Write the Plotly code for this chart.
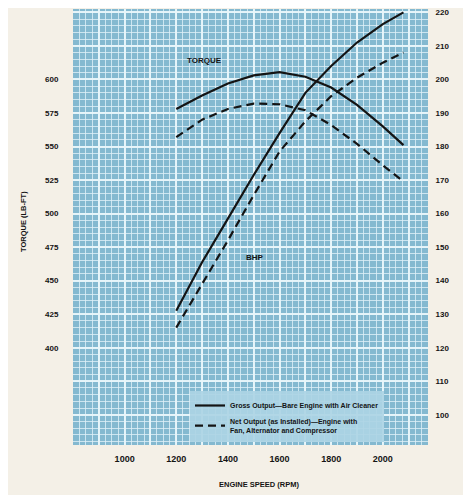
import plotly.graph_objects as go

rpm = [1200, 1300, 1400, 1500, 1600, 1700, 1800, 1900, 2000, 2080]
torque_gross = [578, 588, 597, 603, 605.5, 602, 594, 581, 565, 551]
torque_net = [557, 570, 578, 582, 581.5, 577, 566, 552, 536, 524]
bhp_gross = [131, 145.5, 158.5, 171.5, 184, 196, 204, 211, 216.5, 220]
bhp_net = [126, 139, 152, 165.5, 178.5, 187.5, 195, 200.5, 205, 208]

x_tick_labels = [1000, 1200, 1400, 1600, 1800, 2000]
torque_ticks = [400, 425, 450, 475, 500, 525, 550, 575, 600]
bhp_ticks = [100, 110, 120, 130, 140, 150, 160, 170, 180, 190, 200, 210, 220]

gross_name = "<b>Gross Output—Bare Engine with Air Cleaner</b>"
net_name = "<b>Net Output (as Installed)—Engine with<br>Fan, Alternator and Compressor</b>"

# page body adds an 8px offset; figure coordinates = screen - 8
OFF = 8
W, H = 471, 495
L, T = 73 - OFF, 9 - OFF
R, B = W - (428 - OFF), H - (445 - OFF)
hp_range = [91, 221]
tq_range = [2.5 * v + 100 for v in hp_range]
x_range = [800, 2175]
PW, PH = W - L - R, H - T - B
PB = H - B  # plot bottom in figure coords


def px(sx):
    return (sx - OFF - L) / PW


def py(sy):
    return (PB - (sy - OFF)) / PH


ink = "#141414"
fig = go.Figure()
fig.add_trace(go.Scatter(x=rpm, y=torque_gross, mode="lines", yaxis="y",
                         line=dict(color=ink, width=2.2), name=gross_name, showlegend=True))
fig.add_trace(go.Scatter(x=rpm, y=torque_net, mode="lines", yaxis="y",
                         line=dict(color=ink, width=2.2, dash="8px,5px"), name=net_name, showlegend=True))
fig.add_trace(go.Scatter(x=rpm, y=bhp_gross, mode="lines", yaxis="y2",
                         line=dict(color=ink, width=2.2), showlegend=False))
fig.add_trace(go.Scatter(x=rpm, y=bhp_net, mode="lines", yaxis="y2",
                         line=dict(color=ink, width=2.2, dash="8px,5px"), showlegend=False))

grid_major = "rgba(232,246,250,0.95)"
grid_minor = "rgba(222,240,247,0.8)"
xt = list(range(800, 2176, 100))
fig.update_layout(
    width=W, height=H,
    margin=dict(l=L, r=R, t=T, b=B),
    paper_bgcolor="#f4f0e7",
    plot_bgcolor="#84b9d0",
    font=dict(family="Liberation Sans", color=ink),
    xaxis=dict(range=x_range, tickvals=xt,
               ticktext=[f"<b>{v}</b>" if v in x_tick_labels else "" for v in xt],
               ticks="outside", ticklen=5, tickcolor="rgba(0,0,0,0)",
               tickfont=dict(size=9), showgrid=True, gridcolor=grid_major, gridwidth=2,
               minor=dict(dtick=25, tick0=800, showgrid=True, gridcolor=grid_minor, gridwidth=1),
               zeroline=False, showline=False, fixedrange=True),
    yaxis=dict(range=tq_range, tickvals=torque_ticks,
               ticktext=[f"<b>{v}</b>" for v in torque_ticks],
               ticks="outside", ticklen=12, tickcolor="rgba(0,0,0,0)",
               tickfont=dict(size=8), showgrid=False, zeroline=False, showline=False),
    yaxis2=dict(range=hp_range, overlaying="y", side="right", tickvals=bhp_ticks,
                ticktext=[f"<b>{v}</b>" for v in bhp_ticks],
                ticks="outside", ticklen=5, tickcolor="rgba(0,0,0,0)",
                tickfont=dict(size=8), showgrid=True, gridcolor=grid_major, gridwidth=2,
                minor=dict(dtick=2, tick0=90, showgrid=True, gridcolor=grid_minor, gridwidth=1),
                zeroline=False, showline=False),
    legend=dict(x=px(190), y=py(391),
                xanchor="left", yanchor="top", bgcolor="rgba(172,212,228,0.92)",
                font=dict(size=7, color=ink), tracegroupgap=0, itemwidth=30,
                borderwidth=0),
    showlegend=True,
)

fig.add_annotation(x=1310, y=205.7, yref="y2", text="<b>TORQUE</b>", showarrow=False,
                   font=dict(size=8, color=ink))
fig.add_annotation(x=1505, y=147, yref="y2", text="<b>BHP</b>", showarrow=False,
                   font=dict(size=8, color=ink))
fig.add_annotation(x=px(259), xref="paper", y=py(484),
                   yref="paper", xanchor="center", yanchor="middle",
                   text="<b>ENGINE SPEED (RPM)</b>", showarrow=False,
                   font=dict(size=7.5, color=ink))
fig.add_annotation(x=px(23), xref="paper", y=py(222),
                   yref="paper", xanchor="center", yanchor="middle",
                   text="<b>TORQUE (LB-FT)</b>", showarrow=False, textangle=-90,
                   font=dict(size=7.5, color=ink))

fig.write_html("out.html")
